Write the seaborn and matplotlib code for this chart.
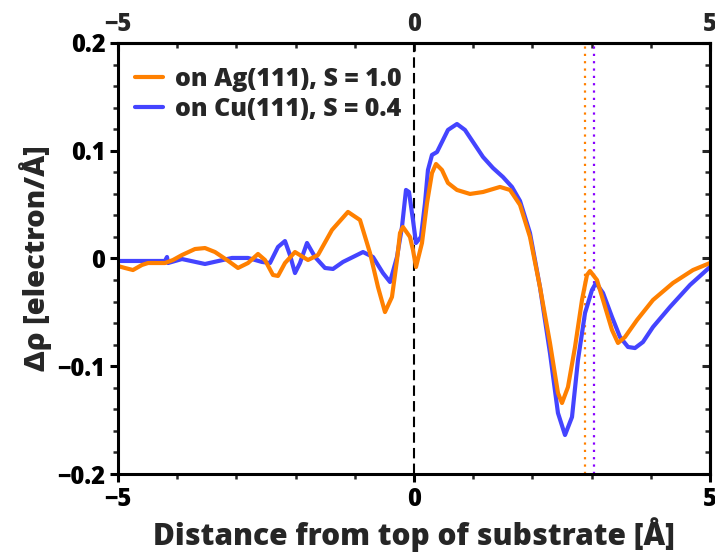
import numpy as np
import pandas as pd
import matplotlib
matplotlib.use("Agg")
import matplotlib.pyplot as plt
from matplotlib.ticker import MultipleLocator, FuncFormatter
from matplotlib.lines import Line2D
import seaborn as sns

# ---- data ----
ag_x = [-5.000, -4.882, -4.747, -4.595, -4.493, -4.206, -4.071, -3.919, -3.699, -3.530,
        -3.361, -3.159, -2.973, -2.804, -2.635, -2.517, -2.382, -2.297, -2.179, -2.010,
        -1.791, -1.622, -1.385, -1.115, -0.912, -0.743, -0.608, -0.490, -0.372, -0.287,
        -0.236, -0.186, -0.068, -0.017, 0.034, 0.135, 0.220, 0.304, 0.372, 0.473,
        0.574, 0.726, 0.946, 1.166, 1.453, 1.622, 1.791, 1.959, 2.128, 2.297,
        2.432, 2.500, 2.601, 2.720, 2.838, 2.922, 2.973, 3.091, 3.193, 3.345,
        3.446, 3.564, 3.767, 4.037, 4.375, 4.713, 5.000]
ag_y = [-0.0070, -0.0088, -0.0107, -0.0060, -0.0042, -0.0042, -0.0014, 0.0032, 0.0088, 0.0097,
        0.0060, -0.0014, -0.0088, -0.0042, 0.0042, -0.0014, -0.0153, -0.0162, -0.0042, 0.0060,
        -0.0014, 0.0032, 0.0265, 0.0432, 0.0357, 0.0051, -0.0265, -0.0497, -0.0357, -0.0014,
        0.0237, 0.0292, 0.0200, 0.0079, -0.0079, 0.0144, 0.0515, 0.0793, 0.0877, 0.0821,
        0.0701, 0.0636, 0.0599, 0.0617, 0.0664, 0.0636, 0.0497, 0.0200, -0.0265, -0.0784,
        -0.1248, -0.1341, -0.1193, -0.0821, -0.0385, -0.0153, -0.0116, -0.0200, -0.0385, -0.0664,
        -0.0784, -0.0729, -0.0571, -0.0385, -0.0227, -0.0107, -0.0042]

cu_x = [-5.000, -4.206, -4.172, -4.155, -3.919, -3.530, -3.074, -2.804, -2.568, -2.432,
        -2.297, -2.179, -2.095, -2.010, -1.926, -1.807, -1.672, -1.503, -1.368, -1.199,
        -0.861, -0.693, -0.524, -0.405, -0.287, -0.203, -0.135, -0.084, -0.017, 0.034,
        0.118, 0.186, 0.236, 0.304, 0.389, 0.473, 0.574, 0.726, 0.861, 0.997,
        1.166, 1.334, 1.503, 1.655, 1.791, 1.959, 2.128, 2.297, 2.432, 2.551,
        2.669, 2.770, 2.889, 3.007, 3.074, 3.193, 3.345, 3.480, 3.615, 3.733,
        3.868, 4.037, 4.324, 4.662, 5.000]
cu_y = [-0.0023, -0.0023, 0.0014, -0.0042, -0.0005, -0.0051, 0.0005, 0.0005, -0.0032, -0.0042,
        0.0107, 0.0162, 0.0032, -0.0135, -0.0042, 0.0144, 0.0014, -0.0088, -0.0097, -0.0032,
        0.0060, 0.0014, -0.0135, -0.0218, 0.0014, 0.0292, 0.0636, 0.0617, 0.0357, 0.0144,
        0.0200, 0.0515, 0.0821, 0.0961, 0.0988, 0.1081, 0.1193, 0.1248, 0.1193, 0.1081,
        0.0942, 0.0840, 0.0756, 0.0664, 0.0534, 0.0237, -0.0265, -0.0877, -0.1434, -0.1638,
        -0.1471, -0.0942, -0.0506, -0.0292, -0.0227, -0.0320, -0.0543, -0.0729, -0.0821, -0.0831,
        -0.0775, -0.0636, -0.0450, -0.0246, -0.0079]

labels = ["on Ag(111), S = 1.0", "on Cu(111), S = 0.4"]
surface_ag = 2.89
surface_cu = 3.04

ORANGE = "#FF8000"
BLUE = "#4444FF"
PURPLE = "#8800FF"

df = pd.concat([
    pd.DataFrame({"x": cu_x, "y": cu_y, "series": labels[1]}),
    pd.DataFrame({"x": ag_x, "y": ag_y, "series": labels[0]}),
])

sns.set_theme(style="white")
plt.rcParams['font.family'] = ['Open Sans', 'DejaVu Sans']
plt.rcParams['font.weight'] = 'heavy'
plt.rcParams['axes.unicode_minus'] = True

fig = plt.figure(figsize=(7.15, 5.58), dpi=100)
ax = fig.add_axes([0.165, 0.1505, 0.828, 0.7725])

palette = {labels[0]: ORANGE, labels[1]: BLUE}
sns.lineplot(data=df, x="x", y="y", hue="series", palette=palette, estimator=None,
             sort=False, linewidth=3.0, ax=ax, legend=False)
for ln in ax.lines:
    ln.set_solid_joinstyle("round")
    ln.set_solid_capstyle("round")

ax.axvline(0, color="black", linestyle=(0, (5, 2.5)), linewidth=1.5, zorder=1)
ax.axvline(surface_ag, color=ORANGE, linestyle=(0, (1, 2.3)), linewidth=1.6, zorder=1)
ax.axvline(surface_cu, color=PURPLE, linestyle=(0, (1, 2.3)), linewidth=1.6, zorder=1)

ax.set_xlim(-5, 5)
ax.set_ylim(-0.2, 0.2)

fmt_y = FuncFormatter(lambda v, p: "0" if abs(v) < 1e-9 else f"{v:.1f}".replace("-", "\u2212"))
fmt_x = FuncFormatter(lambda v, p: f"{v:.0f}".replace("-", "\u2212") if abs(v) > 1e-9 else "0")
ax.xaxis.set_major_locator(MultipleLocator(5))
ax.xaxis.set_minor_locator(MultipleLocator(1))
ax.yaxis.set_major_locator(MultipleLocator(0.1))
ax.yaxis.set_minor_locator(MultipleLocator(0.02))
ax.yaxis.set_major_formatter(fmt_y)
ax.xaxis.set_major_formatter(fmt_x)

for s in ax.spines.values():
    s.set_linewidth(2.2)
    s.set_color("black")

TICK_FS = 17
ax.tick_params(which="major", direction="out", length=6, width=2.2, labelsize=TICK_FS,
               left=True, bottom=True, colors="black", pad=3)
ax.tick_params(which="minor", direction="out", length=3.5, width=1.8, left=True, bottom=True)

secx = ax.secondary_xaxis("top")
secx.xaxis.set_major_locator(MultipleLocator(5))
secx.xaxis.set_minor_locator(MultipleLocator(1))
secx.xaxis.set_major_formatter(fmt_x)
secx.tick_params(which="major", direction="in", length=6, width=2.2, labelsize=TICK_FS, pad=4)
secx.tick_params(which="minor", direction="in", length=3.5, width=1.8)
secx.spines["top"].set_linewidth(2.2)

secy = ax.secondary_yaxis("right")
secy.yaxis.set_major_locator(MultipleLocator(0.1))
secy.yaxis.set_minor_locator(MultipleLocator(0.02))
secy.tick_params(which="major", direction="in", length=6, width=2.2, labelright=False)
secy.tick_params(which="minor", direction="in", length=3.5, width=1.8)
secy.spines["right"].set_linewidth(2.2)

for t in ax.get_xticklabels() + ax.get_yticklabels() + secx.get_xticklabels():
    t.set_fontweight("heavy")

ax.set_xlabel("Distance from top of substrate [Å]", fontsize=21.5, fontweight="heavy", labelpad=4)
ax.set_ylabel("Δρ [electron/Å]", fontsize=21, fontweight="heavy")
ax.yaxis.set_label_coords(-0.112, 0.5)

handles = [Line2D([], [], color=ORANGE, linewidth=3.0),
           Line2D([], [], color=BLUE, linewidth=3.0)]
ax.legend(handles, labels, loc="upper left", frameon=False,
          prop={"weight": "heavy", "size": 18}, handlelength=1.1, handletextpad=0.5,
          labelspacing=0.2, borderaxespad=0.3, bbox_to_anchor=(0.0, 0.985))

fig.savefig("out.png", dpi=100)
